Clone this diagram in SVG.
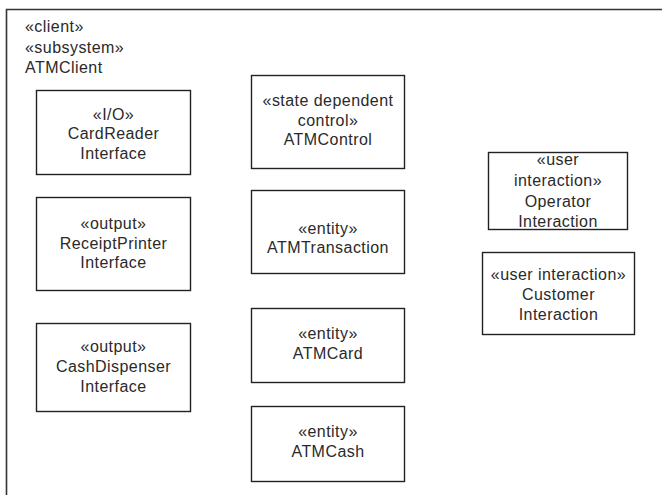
<svg xmlns="http://www.w3.org/2000/svg" width="662" height="495" viewBox="0 0 662 495">
<style>
.box{fill:#fff;stroke:#222;stroke-width:1.4}
.frame{fill:none;stroke:#333;stroke-width:1.6}
text{font-family:"Liberation Sans",Arial,sans-serif;font-size:16px;letter-spacing:0.45px;fill:#2a2a2a}
.c{text-anchor:middle}
</style>
<rect width="662" height="495" fill="#fff"/>
<g id="frame">
<path class="frame" d="M6.5,495 V9.5 H662"/>
<text x="25" y="32">«client»</text>
<text x="25" y="52.5">«subsystem»</text>
<text x="25" y="73">ATMClient</text>
</g>
<g id="connectors"></g>
<g id="CardReaderInterface">
<rect class="box" x="36.5" y="90.5" width="154" height="84"/>
<text class="c" x="113.5" y="119.5">«I/O»</text>
<text class="c" x="113.5" y="139">CardReader</text>
<text class="c" x="113.5" y="158.5">Interface</text>
</g>
<g id="ReceiptPrinterInterface">
<rect class="box" x="36.5" y="197.5" width="154" height="93"/>
<text class="c" x="113.5" y="229">«output»</text>
<text class="c" x="113.5" y="248.5">ReceiptPrinter</text>
<text class="c" x="113.5" y="268">Interface</text>
</g>
<g id="CashDispenserInterface">
<rect class="box" x="36.5" y="323.5" width="154" height="88"/>
<text class="c" x="113.5" y="352">«output»</text>
<text class="c" x="113.5" y="372">CashDispenser</text>
<text class="c" x="113.5" y="392">Interface</text>
</g>
<g id="ATMControl">
<rect class="box" x="251.5" y="75.5" width="153" height="93"/>
<text class="c" x="328" y="106">«state dependent</text>
<text class="c" x="328" y="125.5">control»</text>
<text class="c" x="328" y="145">ATMControl</text>
</g>
<g id="ATMTransaction">
<rect class="box" x="251.5" y="190.5" width="153" height="83"/>
<text class="c" x="328" y="233.5">«entity»</text>
<text class="c" x="328" y="253">ATMTransaction</text>
</g>
<g id="ATMCard">
<rect class="box" x="251.5" y="308.5" width="153" height="74"/>
<text class="c" x="328" y="339">«entity»</text>
<text class="c" x="328" y="358.5">ATMCard</text>
</g>
<g id="ATMCash">
<rect class="box" x="251.5" y="406.5" width="153" height="75"/>
<text class="c" x="328" y="437">«entity»</text>
<text class="c" x="328" y="457">ATMCash</text>
</g>
<g id="OperatorInteraction">
<rect class="box" x="488.5" y="152.5" width="139" height="77"/>
<text class="c" x="558" y="165">«user</text>
<text class="c" x="558" y="186">interaction»</text>
<text class="c" x="558" y="206.5">Operator</text>
<text class="c" x="558" y="227">Interaction</text>
</g>
<g id="CustomerInteraction">
<rect class="box" x="482.5" y="252.5" width="152" height="82"/>
<text class="c" x="558.5" y="280">«user interaction»</text>
<text class="c" x="558.5" y="300">Customer</text>
<text class="c" x="558.5" y="320">Interaction</text>
</g>
</svg>
